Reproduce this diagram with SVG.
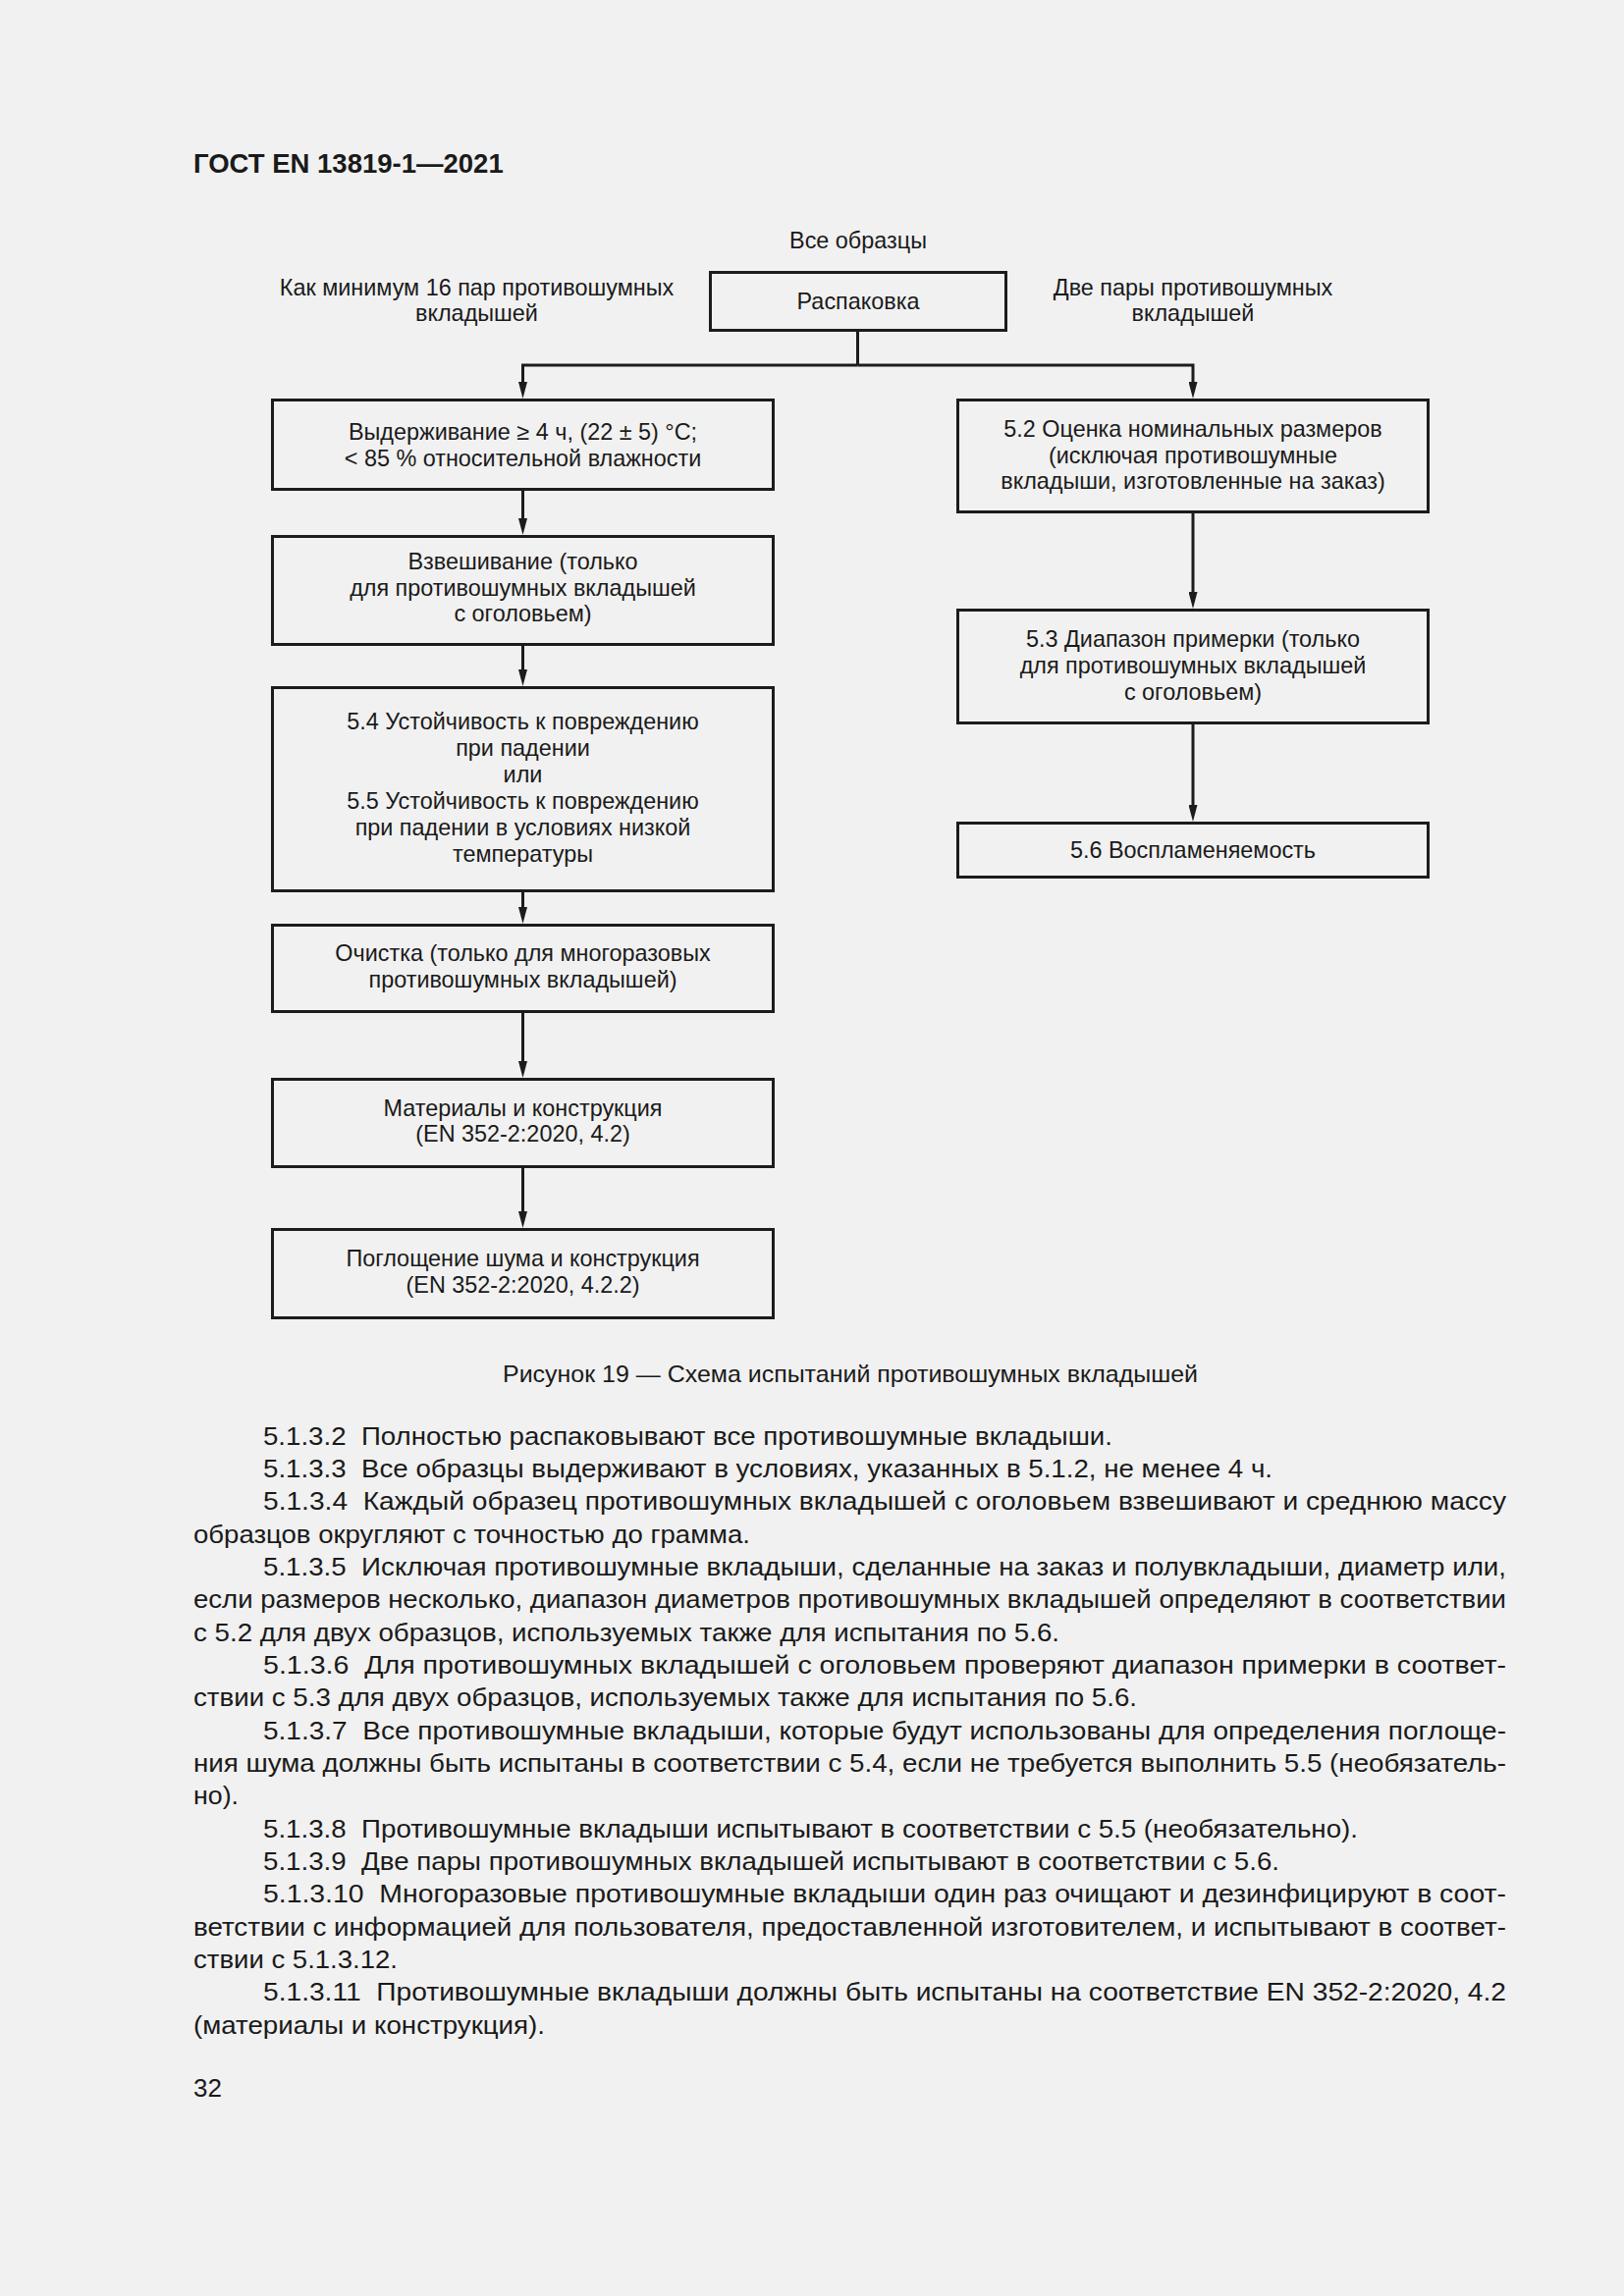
<svg xmlns="http://www.w3.org/2000/svg" width="1654" height="2339" viewBox="0 0 1654 2339">
<defs>
<style>
.bg{fill:#f1f1f1}
.box{fill:none;stroke:#1c1c1c;stroke-width:3}
.ln{fill:none;stroke:#1c1c1c;stroke-width:3}
.t{font-family:"Liberation Sans",Arial,sans-serif;font-size:23.4px;fill:#1a1a1a;text-anchor:middle}
.hd{font-family:"Liberation Sans",Arial,sans-serif;font-size:27.5px;font-weight:bold;fill:#1a1a1a}
.cap{font-family:"Liberation Sans",Arial,sans-serif;font-size:24px;fill:#1a1a1a;text-anchor:middle}
.b{font-family:"Liberation Sans",Arial,sans-serif;font-size:26px;fill:#1a1a1a}
</style>
<marker id="arr" viewBox="0 0 17 9" refX="7" refY="4.5" markerWidth="17" markerHeight="9" markerUnits="userSpaceOnUse" orient="auto" preserveAspectRatio="none">
<path d="M0,0 L17,4.5 L0,9 z" fill="#1c1c1c"/>
</marker>
</defs>
<rect class="bg" x="0" y="0" width="1654" height="2339"/>

<text class="hd" x="197" y="176">ГОСТ EN 13819-1—2021</text>

<g id="labels">
<text class="t" x="874" y="253">Все образцы</text>
<text class="t" x="485.5" y="301">Как минимум 16 пар противошумных</text>
<text class="t" x="485.5" y="327">вкладышей</text>
<text class="t" x="1215" y="301">Две пары противошумных</text>
<text class="t" x="1215" y="327">вкладышей</text>
</g>

<g id="connectors">
<path class="ln" d="M873.5,338 V372"/>
<path class="ln" d="M873.5,372 H532.5 V396" marker-end="url(#arr)"/>
<path class="ln" d="M873.5,372 H1215 V396" marker-end="url(#arr)"/>
<path class="ln" d="M532.5,500 V535" marker-end="url(#arr)"/>
<path class="ln" d="M532.5,658 V689" marker-end="url(#arr)"/>
<path class="ln" d="M532.5,909 V931" marker-end="url(#arr)"/>
<path class="ln" d="M532.5,1032 V1088" marker-end="url(#arr)"/>
<path class="ln" d="M532.5,1190 V1241" marker-end="url(#arr)"/>
<path class="ln" d="M1215,523 V610" marker-end="url(#arr)"/>
<path class="ln" d="M1215,738 V827" marker-end="url(#arr)"/>
</g>

<g id="n-unpack">
<rect class="box" x="723.5" y="277.5" width="301" height="59"/>
<text class="t" x="874" y="315">Распаковка</text>
</g>

<g id="n-condition">
<rect class="box" x="277.5" y="407.5" width="510" height="91"/>
<text class="t" x="532.5" y="448">Выдерживание ≥ 4 ч, (22 ± 5) °C;</text>
<text class="t" x="532.5" y="475">&lt; 85 % относительной влажности</text>
</g>

<g id="n-weigh">
<rect class="box" x="277.5" y="546.5" width="510" height="110"/>
<text class="t" x="532.5" y="580">Взвешивание (только</text>
<text class="t" x="532.5" y="606.5">для противошумных вкладышей</text>
<text class="t" x="532.5" y="633">с оголовьем)</text>
</g>

<g id="n-drop">
<rect class="box" x="277.5" y="700.5" width="510" height="207"/>
<text class="t" x="532.5" y="743">5.4 Устойчивость к повреждению</text>
<text class="t" x="532.5" y="770">при падении</text>
<text class="t" x="532.5" y="797">или</text>
<text class="t" x="532.5" y="824">5.5 Устойчивость к повреждению</text>
<text class="t" x="532.5" y="851">при падении в условиях низкой</text>
<text class="t" x="532.5" y="878">температуры</text>
</g>

<g id="n-clean">
<rect class="box" x="277.5" y="942.5" width="510" height="88"/>
<text class="t" x="532.5" y="979">Очистка (только для многоразовых</text>
<text class="t" x="532.5" y="1006">противошумных вкладышей)</text>
</g>

<g id="n-materials">
<rect class="box" x="277.5" y="1099.5" width="510" height="89"/>
<text class="t" x="532.5" y="1137">Материалы и конструкция</text>
<text class="t" x="532.5" y="1163">(EN 352-2:2020, 4.2)</text>
</g>

<g id="n-absorb">
<rect class="box" x="277.5" y="1252.5" width="510" height="90"/>
<text class="t" x="532.5" y="1290">Поглощение шума и конструкция</text>
<text class="t" x="532.5" y="1317">(EN 352-2:2020, 4.2.2)</text>
</g>

<g id="n-size">
<rect class="box" x="975.5" y="407.5" width="479" height="114"/>
<text class="t" x="1215" y="445">5.2 Оценка номинальных размеров</text>
<text class="t" x="1215" y="471.5">(исключая противошумные</text>
<text class="t" x="1215" y="498">вкладыши, изготовленные на заказ)</text>
</g>

<g id="n-fit">
<rect class="box" x="975.5" y="621.5" width="479" height="115"/>
<text class="t" x="1215" y="659">5.3 Диапазон примерки (только</text>
<text class="t" x="1215" y="686">для противошумных вкладышей</text>
<text class="t" x="1215" y="713">с оголовьем)</text>
</g>

<g id="n-flame">
<rect class="box" x="975.5" y="838.5" width="479" height="55"/>
<text class="t" x="1215" y="874">5.6 Воспламеняемость</text>
</g>

<text class="cap" x="866" y="1408" textLength="708" lengthAdjust="spacingAndGlyphs">Рисунок 19 — Схема испытаний противошумных вкладышей</text>

<g id="body">
<text class="b" x="268" y="1471.7" textLength="865" lengthAdjust="spacingAndGlyphs">5.1.3.2&#160; Полностью распаковывают все противошумные вкладыши.</text>
<text class="b" x="268" y="1505" textLength="1028" lengthAdjust="spacingAndGlyphs">5.1.3.3&#160; Все образцы выдерживают в условиях, указанных в 5.1.2, не менее 4 ч.</text>
<text class="b" x="268" y="1538.3" textLength="1266" lengthAdjust="spacingAndGlyphs">5.1.3.4&#160; Каждый образец противошумных вкладышей с оголовьем взвешивают и среднюю массу</text>
<text class="b" x="197" y="1571.7" textLength="567" lengthAdjust="spacingAndGlyphs">образцов округляют с точностью до грамма.</text>
<text class="b" x="268" y="1605" textLength="1266" lengthAdjust="spacingAndGlyphs">5.1.3.5&#160; Исключая противошумные вкладыши, сделанные на заказ и полувкладыши, диаметр или,</text>
<text class="b" x="197" y="1638.3" textLength="1337" lengthAdjust="spacingAndGlyphs">если размеров несколько, диапазон диаметров противошумных вкладышей определяют в соответствии</text>
<text class="b" x="197" y="1671.7" textLength="882" lengthAdjust="spacingAndGlyphs">с 5.2 для двух образцов, используемых также для испытания по 5.6.</text>
<text class="b" x="268" y="1705" textLength="1266" lengthAdjust="spacingAndGlyphs">5.1.3.6&#160; Для противошумных вкладышей с оголовьем проверяют диапазон примерки в соответ-</text>
<text class="b" x="197" y="1738.3" textLength="961" lengthAdjust="spacingAndGlyphs">ствии с 5.3 для двух образцов, используемых также для испытания по 5.6.</text>
<text class="b" x="268" y="1771.7" textLength="1266" lengthAdjust="spacingAndGlyphs">5.1.3.7&#160; Все противошумные вкладыши, которые будут использованы для определения поглоще-</text>
<text class="b" x="197" y="1805" textLength="1337" lengthAdjust="spacingAndGlyphs">ния шума должны быть испытаны в соответствии с 5.4, если не требуется выполнить 5.5 (необязатель-</text>
<text class="b" x="197" y="1838.3" textLength="46" lengthAdjust="spacingAndGlyphs">но).</text>
<text class="b" x="268" y="1871.7" textLength="1115" lengthAdjust="spacingAndGlyphs">5.1.3.8&#160; Противошумные вкладыши испытывают в соответствии с 5.5 (необязательно).</text>
<text class="b" x="268" y="1905" textLength="1035" lengthAdjust="spacingAndGlyphs">5.1.3.9&#160; Две пары противошумных вкладышей испытывают в соответствии с 5.6.</text>
<text class="b" x="268" y="1938.3" textLength="1266" lengthAdjust="spacingAndGlyphs">5.1.3.10&#160; Многоразовые противошумные вкладыши один раз очищают и дезинфицируют в соот-</text>
<text class="b" x="197" y="1971.7" textLength="1337" lengthAdjust="spacingAndGlyphs">ветствии с информацией для пользователя, предоставленной изготовителем, и испытывают в соответ-</text>
<text class="b" x="197" y="2005" textLength="208" lengthAdjust="spacingAndGlyphs">ствии с 5.1.3.12.</text>
<text class="b" x="268" y="2038.3" textLength="1266" lengthAdjust="spacingAndGlyphs">5.1.3.11&#160; Противошумные вкладыши должны быть испытаны на соответствие EN 352-2:2020, 4.2</text>
<text class="b" x="197" y="2071.7" textLength="358" lengthAdjust="spacingAndGlyphs">(материалы и конструкция).</text>
</g>

<text class="b" x="197" y="2136">32</text>
</svg>
